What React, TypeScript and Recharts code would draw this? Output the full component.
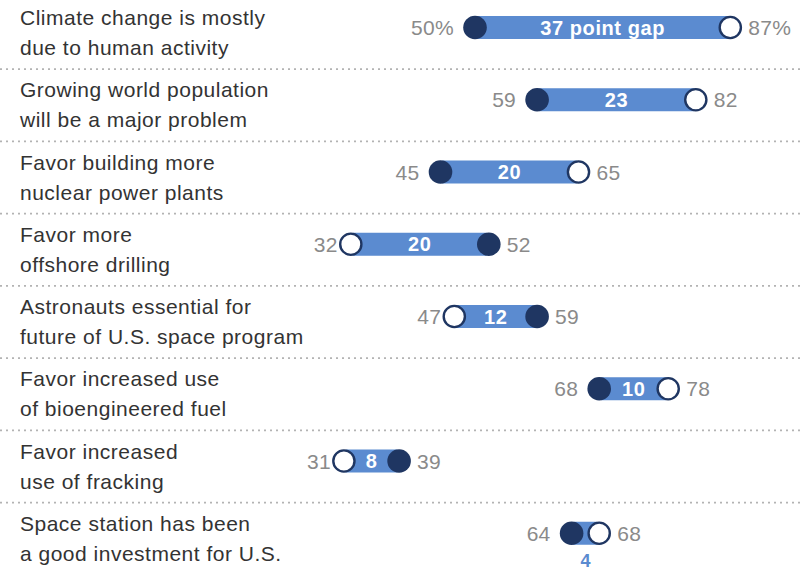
import React from 'react';
import { ComposedChart, Bar, XAxis, YAxis } from 'recharts';

const labelLine1 = [
  'Climate change is mostly',
  'Growing world population',
  'Favor building more',
  'Favor more',
  'Astronauts essential for',
  'Favor increased use',
  'Favor increased',
  'Space station has been',
];
const labelLine2 = [
  'due to human activity',
  'will be a major problem',
  'nuclear power plants',
  'offshore drilling',
  'future of U.S. space program',
  'of bioengineered fuel',
  'use of fracking',
  'a good investment for U.S.',
];
const darkValues = [50, 59, 45, 52, 59, 68, 39, 64];
const whiteValues = [87, 82, 65, 32, 47, 78, 31, 68];
const gapLabels = ['37 point gap', '23', '20', '20', '12', '10', '8', '4'];
const valueSuffixes = ['%', '', '', '', '', '', '', ''];

const data = labelLine1.map((l1, i) => ({
  name: l1,
  line2: labelLine2[i],
  dark: darkValues[i],
  white: whiteValues[i],
  range: [Math.min(darkValues[i], whiteValues[i]), Math.max(darkValues[i], whiteValues[i])],
  gap: gapLabels[i],
  suffix: valueSuffixes[i],
  index: i,
}));

const FONT = '"Liberation Sans", Arial, sans-serif';
const BAR_BLUE = '#5b8bd0';
const NAVY = '#1f3662';
const GRAY = '#8a8a8a';

const CategoryTick = (props: any) => {
  const { y, payload } = props;
  const row = data.find((d) => d.name === payload.value);
  const idx = row ? row.index : 0;
  return (
    <g>
      <text x={20} y={y - 2} fontFamily={FONT} fontSize={21} fill="#333" letterSpacing={0.5}>
        {payload.value}
      </text>
      <text x={20} y={y + 28} fontFamily={FONT} fontSize={21} fill="#333" letterSpacing={0.5}>
        {row ? row.line2 : ''}
      </text>
      {idx < data.length - 1 && (
        <line
          x1={0}
          x2={802}
          y1={y + 42}
          y2={y + 42}
          stroke="#b3b3b3"
          strokeWidth={1.6}
          strokeDasharray="2 4"
        />
      )}
    </g>
  );
};

const DumbbellShape = (props: any) => {
  const { x, y, width, height, payload } = props;
  const cy = y + height / 2;
  const darkIsLeft = payload.dark < payload.white;
  const xl = x;
  const xr = x + width;
  const leftVal = darkIsLeft ? payload.dark : payload.white;
  const rightVal = darkIsLeft ? payload.white : payload.dark;
  const leftOffset = darkIsLeft ? 21 : 13;
  const rightOffset = 18;
  const darkX = darkIsLeft ? xl : xr;
  const whiteX = darkIsLeft ? xr : xl;
  const inside = width > 40;
  const textBase = cy + 7.5;
  return (
    <g>
      <rect x={xl} y={y} width={width} height={height} rx={3} fill={BAR_BLUE} />
      <circle cx={darkX} cy={cy} r={11.8} fill={NAVY} />
      <circle cx={whiteX} cy={cy} r={10.6} fill="#fff" stroke={NAVY} strokeWidth={2.4} />
      <text
        x={xl - leftOffset}
        y={textBase}
        textAnchor="end"
        fontFamily={FONT}
        fontSize={21}
        fill={GRAY}
        letterSpacing={0.3}
      >
        {leftVal + payload.suffix}
      </text>
      <text
        x={xr + rightOffset}
        y={textBase}
        textAnchor="start"
        fontFamily={FONT}
        fontSize={21}
        fill={GRAY}
        letterSpacing={0.3}
      >
        {rightVal + payload.suffix}
      </text>
      {inside ? (
        <text
          x={(xl + xr) / 2}
          y={cy + 7}
          textAnchor="middle"
          fontFamily={FONT}
          fontSize={20}
          fontWeight="bold"
          fill="#fff"
          letterSpacing={0.6}
        >
          {payload.gap}
        </text>
      ) : (
        <text
          x={(xl + xr) / 2}
          y={cy + 34}
          textAnchor="middle"
          fontFamily={FONT}
          fontSize={18}
          fontWeight="bold"
          fill={BAR_BLUE}
        >
          {payload.gap}
        </text>
      )}
    </g>
  );
};

export default function App() {
  return (
    <div
      style={{
        position: 'absolute',
        left: 0,
        top: -9,
        width: 802,
        height: 581,
        overflow: 'hidden',
        background: '#fff',
      }}
    >
      <ComposedChart
        width={802}
        height={590}
        data={data}
        layout="vertical"
        margin={{ top: 0, right: 16.5, bottom: 12, left: 0 }}
      >
        <XAxis type="number" domain={[20, 95]} hide />
        <YAxis
          type="category"
          dataKey="name"
          width={268}
          axisLine={false}
          tickLine={false}
          tick={<CategoryTick />}
          interval={0}
        />
        <Bar dataKey="range" barSize={23} shape={<DumbbellShape />} isAnimationActive={false} />
      </ComposedChart>
    </div>
  );
}
